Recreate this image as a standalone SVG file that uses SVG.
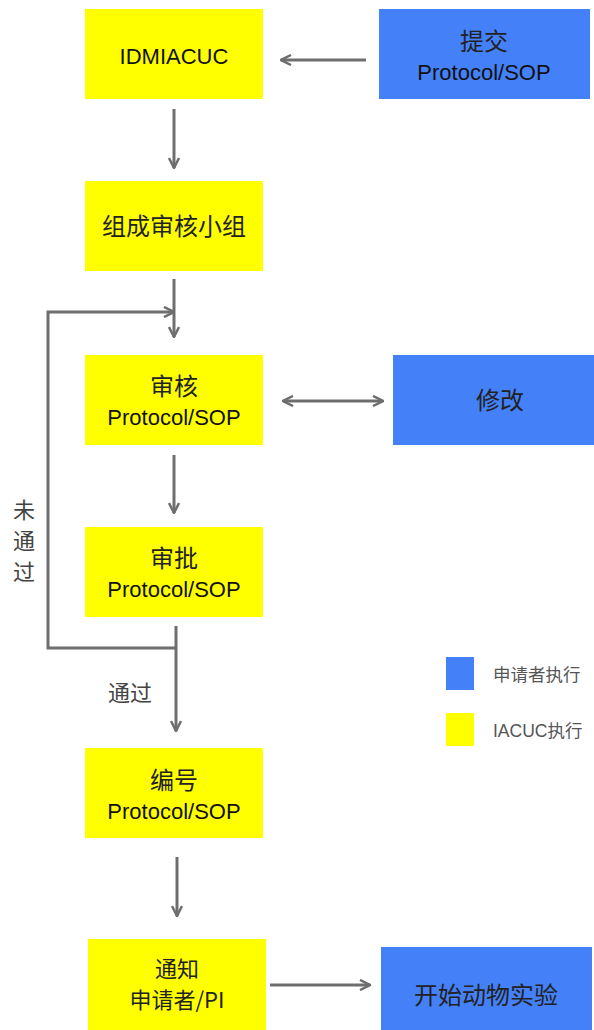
<svg xmlns="http://www.w3.org/2000/svg" width="594" height="1030" viewBox="0 0 594 1030">
<style>
.y{fill:#FFFF00}
.b{fill:#4480F8}
.t{font-family:"Liberation Sans","Noto Sans CJK SC",sans-serif;font-size:22px;fill:#111;text-anchor:middle}
.z{font-family:"Noto Sans CJK SC",sans-serif;font-size:24px;fill:#222;text-anchor:middle}
.lg{font-family:"Liberation Sans","Noto Sans CJK SC",sans-serif;font-size:17.5px;fill:#555}
.lb{font-family:"Noto Sans CJK SC",sans-serif;font-size:22px;fill:#444}
.c{stroke:#6e6e6e;stroke-width:3;fill:none}
</style>
<defs>
<marker id="ah" viewBox="0 0 12 12" refX="11" refY="6" markerWidth="12" markerHeight="12" markerUnits="userSpaceOnUse" orient="auto-start-reverse">
<path d="M1,1 L11,6 L1,11" fill="none" stroke="#6e6e6e" stroke-width="2.5"/>
</marker>
</defs>
<rect width="594" height="1030" fill="#fff"/>
<g id="n1"><rect class="y" x="85" y="9" width="178" height="90"/><text class="t" x="174" y="64">IDMIACUC</text></g>
<g id="n2"><rect class="b" x="379" y="9" width="211" height="90"/><text class="z" x="484" y="50">提交</text><text class="t" x="484" y="80">Protocol/SOP</text></g>
<g id="n3"><rect class="y" x="85" y="181" width="178" height="90"/><text class="z" x="174" y="235">组成审核小组</text></g>
<g id="n4"><rect class="y" x="85" y="355" width="178" height="90"/><text class="z" x="174" y="395">审核</text><text class="t" x="174" y="425">Protocol/SOP</text></g>
<g id="n5"><rect class="b" x="393" y="355" width="201" height="90"/><text class="z" x="500" y="409">修改</text></g>
<g id="n6"><rect class="y" x="85" y="527" width="178" height="90"/><text class="z" x="174" y="567">审批</text><text class="t" x="174" y="597">Protocol/SOP</text></g>
<g id="n7"><rect class="y" x="85" y="748" width="178" height="90"/><text class="z" x="174" y="789">编号</text><text class="t" x="174" y="819">Protocol/SOP</text></g>
<g id="n8"><rect class="y" x="88" y="939" width="178" height="91"/><text class="z" x="177" y="977" style="font-size:22px">通知</text><text class="z" x="177" y="1008" style="font-size:22px">申请者/PI</text></g>
<g id="n9"><rect class="b" x="381" y="947" width="211" height="83"/><text class="z" x="486" y="1004">开始动物实验</text></g>
<g id="legend">
<rect class="b" x="446" y="657" width="28" height="33"/>
<text class="lg" x="493" y="681">申请者执行</text>
<rect class="y" x="446" y="713" width="28" height="33"/>
<text class="lg" x="493" y="737">IACUC执行</text>
</g>
<g id="connectors">
<line class="c" x1="366" y1="60" x2="281" y2="60" marker-end="url(#ah)"/>
<line class="c" x1="174" y1="109" x2="174" y2="168" marker-end="url(#ah)"/>
<line class="c" x1="174" y1="279" x2="174" y2="337" marker-end="url(#ah)"/>
<polyline class="c" points="176,648 48,648 48,312 174,312" marker-end="url(#ah)"/>
<line class="c" x1="283" y1="401" x2="383" y2="401" marker-start="url(#ah)" marker-end="url(#ah)"/>
<line class="c" x1="174" y1="455" x2="174" y2="513" marker-end="url(#ah)"/>
<line class="c" x1="176" y1="626" x2="176" y2="731" marker-end="url(#ah)"/>
<line class="c" x1="177" y1="857" x2="177" y2="916" marker-end="url(#ah)"/>
<line class="c" x1="270" y1="985" x2="370" y2="985" marker-end="url(#ah)"/>
<text class="lb" x="13" y="518">未</text>
<text class="lb" x="13" y="549">通</text>
<text class="lb" x="13" y="580">过</text>
<text class="lb" x="108" y="701">通过</text>
</g>
</svg>
